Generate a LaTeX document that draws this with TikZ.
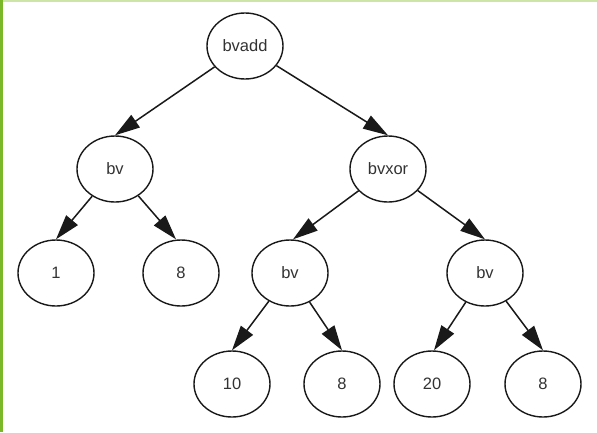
\documentclass[tikz,border=0pt]{standalone}
\usepackage{fontspec}
\setmainfont{Liberation Sans}
\usetikzlibrary{shapes.geometric,arrows.meta}
\definecolor{gleft}{HTML}{7AB829}
\definecolor{gtop}{HTML}{CDE6A8}
\definecolor{txt}{HTML}{333333}
\tikzset{
  tnode/.style={ellipse,draw=black!90,line width=1.4pt,minimum width=76pt,minimum height=66pt,inner sep=0pt,text=txt,font=\fontsize{16.5}{18}\selectfont},
  edge/.style={draw=black!90,line width=1.5pt,-{Triangle[length=25pt,width=15pt]}}
}
\begin{document}
\begin{tikzpicture}[x=1pt,y=-1pt]
\fill[white] (0,0) rectangle (597,432);
\useasboundingbox (0,0) rectangle (597,432);
\fill[gtop] (0,0) rectangle (597,2);
\fill[gleft] (0,0) rectangle (3,432);
\node[tnode] (bvadd) at (245,46) {bvadd};
\node[tnode] (bvl) at (115,169) {bv};
\node[tnode] (bvxor) at (388,169) {bvxor};
\node[tnode] (n1) at (56,273) {1};
\node[tnode] (n8a) at (181,273) {8};
\node[tnode] (bvm) at (290,273) {bv};
\node[tnode] (bvr) at (485,273) {bv};
\node[tnode] (n10) at (232,384) {10};
\node[tnode] (n8b) at (342,384) {8};
\node[tnode] (n20) at (432,384) {20};
\node[tnode] (n8c) at (543,384) {8};
\draw[edge] (bvadd) -- (bvl.north);
\draw[edge] (bvadd) -- (bvxor.north);
\draw[edge] (bvl) -- (n1.north);
\draw[edge] (bvl) -- ([xshift=-5pt]n8a.north);
\draw[edge] (bvxor) -- ([xshift=3pt]bvm.north);
\draw[edge] (bvxor) -- (bvr.north);
\draw[edge] (bvm) -- (n10.north);
\draw[edge] (bvm) -- (n8b.north);
\draw[edge] (bvr) -- ([xshift=2pt]n20.north);
\draw[edge] (bvr) -- (n8c.north);
\end{tikzpicture}
\end{document}
